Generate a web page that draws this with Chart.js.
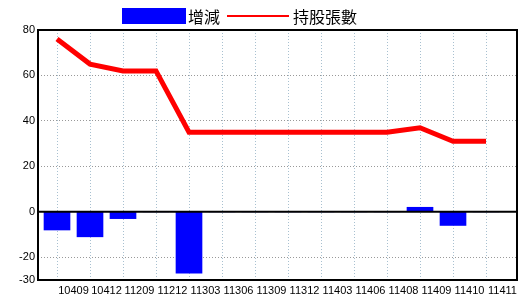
<!DOCTYPE html>
<html>
<head>
<meta charset="utf-8">
<script src="https://cdn.jsdelivr.net/npm/chart.js@4/dist/chart.umd.min.js"></script>
<style>
  body { margin: 0; background: #fff; }
  #wrap { position: relative; width: 520px; height: 300px; }
  #legend { position: absolute; left: 0; top: 0; font-family: "Noto Sans CJK TC", "Noto Sans CJK SC", sans-serif; font-size: 16px; line-height: 16px; color: #000; }
  #legend span { position: absolute; white-space: nowrap; }
</style>
</head>
<body>
<div id="wrap">
  <canvas id="chart" width="520" height="300"></canvas>
  <div id="legend">
    <span style="left:122px; top:8px; width:64px; height:16px; background:#0000ff;"></span>
    <span style="left:188px; top:8px;">增減</span>
    <span style="left:227px; top:15px; width:62px; height:2px; background:#ff0000;"></span>
    <span style="left:293px; top:8px;">持股張數</span>
  </div>
</div>
<script>
// quarter labels (ROC year + month)
const periods = ['10409', '10412', '11209', '11212', '11303', '11306', '11309',
                 '11312', '11403', '11406', '11408', '11409', '11410', '11411'];
// change in holdings
const changes = [-8, -11, -3, 0, -27, 0, 0, 0, 0, 0, 0, 2, -6, 0];
// shares held
const holdings = [76, 65, 62, 62, 35, 35, 35, 35, 35, 35, 35, 37, 31, 31];
const yTicks = [-30, -20, 0, 20, 40, 60, 80];

const tickFont = { family: '"Liberation Sans", Arial', size: 11 };

// frame around the plot + solid zero line
const framePlugin = {
    id: 'frame',
    afterDatasetsDraw(chart) {
        const { ctx, chartArea: a, scales } = chart;
        const y0 = scales.y.getPixelForValue(0);
        ctx.save();
        ctx.strokeStyle = '#000';
        ctx.lineWidth = 2;
        ctx.beginPath();
        ctx.moveTo(a.left, y0);
        ctx.lineTo(a.right, y0);
        ctx.stroke();
        ctx.strokeRect(a.left, a.top, a.right - a.left, a.bottom - a.top);
        ctx.restore();
    }
};

const ctx = document.getElementById('chart').getContext('2d');
new Chart(ctx, {
    data: {
        datasets: [
            {
                type: 'line',
                label: '持股張數',
                data: holdings.map((v, i) => ({ x: i, y: v })),
                borderColor: '#ff0000',
                borderWidth: 5,
                pointRadius: 0,
                tension: 0,
                order: 0
            },
            {
                type: 'bar',
                label: '增減',
                data: changes.map((v, i) => ({ x: i, y: v })),
                backgroundColor: '#0000ff',
                barThickness: 26,
                order: 1
            }
        ]
    },
    options: {
        responsive: false,
        animation: false,
        layout: { padding: { top: 30, right: 3, left: 0, bottom: 0 } },
        plugins: {
            legend: { display: false },
            tooltip: { enabled: false }
        },
        scales: {
            x: {
                type: 'linear',
                offset: false,
                min: -19 / 33,
                max: 13 + 31 / 33,
                afterBuildTicks: scale => { scale.ticks = periods.map((p, i) => ({ value: i })); },
                afterFit: scale => { scale.height = 20; },
                ticks: {
                    autoSkip: false,
                    maxRotation: 0,
                    padding: 4,
                    labelOffset: 16.5,
                    color: '#000',
                    font: tickFont,
                    callback: v => periods[v]
                },
                grid: { offset: false, color: '#a8c0d0', drawTicks: false, tickLength: 0 },
                border: { display: false, dash: [1, 2] }
            },
            y: {
                min: -30,
                max: 80,
                afterBuildTicks: scale => { scale.ticks = yTicks.map(v => ({ value: v })); },
                afterFit: scale => { scale.width = 38; },
                ticks: { padding: 3, color: '#000', font: tickFont },
                grid: {
                    color: c => (c.tick && (c.tick.value === 0 || c.tick.value === -30 || c.tick.value === 80)) ? 'rgba(0,0,0,0)' : '#999999',
                    drawTicks: false,
                    tickLength: 0
                },
                border: { display: false, dash: [1, 2] }
            }
        }
    },
    plugins: [framePlugin]
});
</script>
</body>
</html>
